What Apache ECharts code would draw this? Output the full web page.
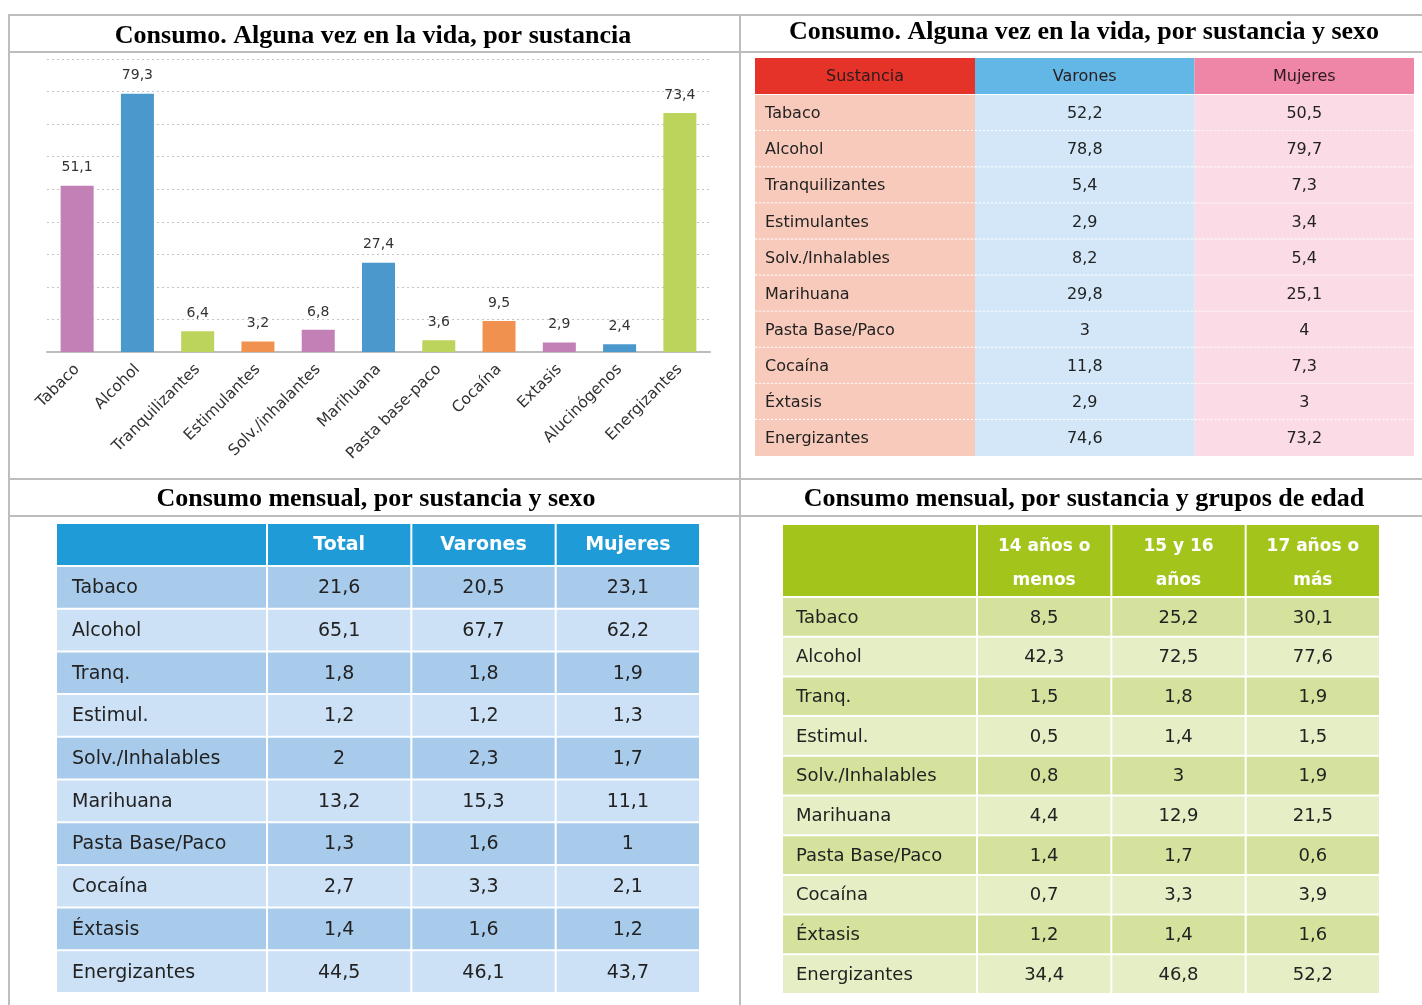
<!DOCTYPE html>
<html>
<head>
<meta charset="utf-8">
<script src="https://cdn.jsdelivr.net/npm/echarts@6/dist/echarts.min.js"></script>
<style>html,body{margin:0;padding:0;background:#fff}#c{width:1422px;height:1005px}</style>
</head>
<body>
<div id="c"></div>
<script>
// ---------- Bar chart data ----------
const barCategories = ['Tabaco','Alcohol','Tranquilizantes','Estimulantes','Solv./inhalantes','Marihuana','Pasta base-paco','Cocaína','Extasis','Alucinógenos','Energizantes'];
const barValues = [51.1,79.3,6.4,3.2,6.8,27.4,3.6,9.5,2.9,2.4,73.4];
const barPalette = ['#c280b7','#4b98cc','#bcd45b','#f19150'];

// ---------- Table 1: alguna vez en la vida, por sexo ----------
const t1Header = ['Sustancia','Varones','Mujeres'];
const t1Rows = ['Tabaco','Alcohol','Tranquilizantes','Estimulantes','Solv./Inhalables','Marihuana','Pasta Base/Paco','Cocaína','Éxtasis','Energizantes'];
const t1Varones = [52.2,78.8,5.4,2.9,8.2,29.8,3,11.8,2.9,74.6];
const t1Mujeres = [50.5,79.7,7.3,3.4,5.4,25.1,4,7.3,3,73.2];

// ---------- Table 2: consumo mensual por sexo ----------
const t2Header = ['','Total','Varones','Mujeres'];
const t2Rows = ['Tabaco','Alcohol','Tranq.','Estimul.','Solv./Inhalables','Marihuana','Pasta Base/Paco','Cocaína','Éxtasis','Energizantes'];
const t2Total = [21.6,65.1,1.8,1.2,2,13.2,1.3,2.7,1.4,44.5];
const t2Varones = [20.5,67.7,1.8,1.2,2.3,15.3,1.6,3.3,1.6,46.1];
const t2Mujeres = [23.1,62.2,1.9,1.3,1.7,11.1,1,2.1,1.2,43.7];

// ---------- Table 3: consumo mensual por edad ----------
const t3Header = ['','14 años o\nmenos','15 y 16\naños','17 años o\nmás'];
const t3Rows = ['Tabaco','Alcohol','Tranq.','Estimul.','Solv./Inhalables','Marihuana','Pasta Base/Paco','Cocaína','Éxtasis','Energizantes'];
const t3Age14 = [8.5,42.3,1.5,0.5,0.8,4.4,1.4,0.7,1.2,34.4];
const t3Age1516 = [25.2,72.5,1.8,1.4,3,12.9,1.7,3.3,1.4,46.8];
const t3Age17 = [30.1,77.6,1.9,1.5,1.9,21.5,0.6,3.9,1.6,52.2];

const fmt = v => String(v).replace('.', ',');
const FONT = '"DejaVu Sans", "Liberation Sans", Arial, sans-serif';

const chart = echarts.init(document.getElementById('c'), null, {renderer:'canvas'});

const grids = [], xAxes = [], yAxes = [], series = [];

// bar chart
grids.push({left:47, width:663, top:59, height:293});
xAxes.push({type:'category', gridIndex:0, data:barCategories,
  axisTick:{show:false},
  axisLine:{lineStyle:{color:'#bcbcbc', width:2}},
  axisLabel:{rotate:45, interval:0, fontSize:15.5, color:'#333', margin:15, fontFamily:FONT}});
yAxes.push({type:'value', gridIndex:0, min:0, max:90, interval:10,
  axisLabel:{show:false}, axisLine:{show:false}, axisTick:{show:false},
  splitLine:{lineStyle:{type:[2,3], color:'#c4c4c4', width:1}}});
series.push({type:'bar', xAxisIndex:0, yAxisIndex:0, barWidth:33,
  data: barValues.map((v,i)=>({value:v, itemStyle:{color:barPalette[i%4]}})),
  label:{show:true, position:'top', distance:11, fontSize:14, color:'#333', fontFamily:FONT,
    formatter:p=>fmt(p.value)}});

// generic table builder
function addTable(spec){
  const boxes = [
    {part:'hl', left:spec.lx, width:spec.lw, top:spec.hy, height:spec.hh},
    {part:'hv', left:spec.vx, width:spec.vw, top:spec.hy, height:spec.hh},
    {part:'bl', left:spec.lx, width:spec.lw, top:spec.by, height:spec.bh},
    {part:'bv', left:spec.vx, width:spec.vw, top:spec.by, height:spec.bh}
  ];
  boxes.forEach(b=>{
    const gi = grids.length;
    grids.push({left:b.left, width:b.width, top:b.top, height:b.height});
    const isLabel = b.part[1]==='l';
    const isHeader = b.part[0]==='h';
    const xCats = isLabel ? ['label'] : spec.header.slice(1);
    const yCats = isHeader ? ['header'] : spec.rows;
    xAxes.push({type:'category', gridIndex:gi, data:xCats, show:false});
    yAxes.push({type:'category', gridIndex:gi, data:yCats, inverse:true, show:false});
    const items = [], texts = [];
    xCats.forEach((xc,ci)=>{
      yCats.forEach((yc,ri)=>{
        items.push([ci, ri]);
        if(isHeader) texts.push(isLabel ? spec.header[0] : spec.header[ci+1]);
        else texts.push(isLabel ? spec.rows[ri] : fmt(spec.cols[ci][ri]));
      });
    });
    const st = spec.style;
    series.push({type:'custom', xAxisIndex:gi, yAxisIndex:gi, silent:true,
      data: items, encode:{x:0, y:1},
      renderItem:(params, api)=>{
        const ci = api.value(0), ri = api.value(1);
        const c = api.coord([ci, ri]);
        const s = api.size([1,1]);
        const g = st.gap;
        const colIdx = isLabel ? 0 : ci+1;
        const fill = isHeader ? st.headFill(colIdx) : st.bodyFill(colIdx, ri);
        const x0 = c[0]-s[0]/2, y0 = c[1]-s[1]/2;
        const children = [{type:'rect', shape:{x:x0+g, y:y0+g, width:s[0]-2*g, height:s[1]-2*g}, style:{fill}}];
        const txt = texts[params.dataIndex];
        const leftAlign = isLabel && !(isHeader && st.headCenter);
        children.push({type:'text', style:{
          text:txt,
          x: leftAlign ? x0 + st.padLeft : c[0],
          y: c[1] + (isHeader ? (st.headDy||0) : (st.bodyDy||0)),
          align: leftAlign ? 'left' : 'center',
          verticalAlign:'middle',
          fill: isHeader ? st.headColor : st.bodyColor,
          fontSize: isHeader ? st.headSize : st.bodySize,
          fontWeight: isHeader ? st.headWeight : 'normal',
          fontFamily: FONT,
          lineHeight: st.headLineHeight || undefined
        }});
        if(st.dotted && !isHeader && ri < spec.rows.length-1){
          children.push({type:'line', shape:{x1:x0, y1:y0+s[1], x2:x0+s[0], y2:y0+s[1]},
            style:{stroke:'#ffffff', lineWidth:2, lineDash:[2,2]}});
        }
        if(st.dotted && isHeader){
          children.push({type:'line', shape:{x1:x0, y1:y0+s[1], x2:x0+s[0], y2:y0+s[1]},
            style:{stroke:'#ffffff', lineWidth:2}});
        }
        return {type:'group', children};
      }});
  });
}

addTable({lx:755, lw:220, vx:975, vw:439, hy:58, hh:37, by:95, bh:361,
  header:t1Header, rows:t1Rows, cols:[t1Varones, t1Mujeres],
  style:{gap:0, dotted:true, padLeft:10, headCenter:true, bodyDy:1,
    headFill:c=>['#e5332a','#62b7e6','#ef85a7'][c],
    bodyFill:(c,r)=>['#f8cabb','#d3e7f8','#fbdbe5'][c],
    headColor:'#2b1b1b', headSize:16, headWeight:'normal',
    bodyColor:'#222', bodySize:16}});

addTable({lx:56, lw:211, vx:267, vw:433, hy:523, hh:43, by:566, bh:427,
  header:t2Header, rows:t2Rows, cols:[t2Total, t2Varones, t2Mujeres],
  style:{gap:1, dotted:false, padLeft:16, headDy:1, bodyDy:1,
    headFill:c=>'#1f9cd8',
    bodyFill:(c,r)=> r%2===0 ? '#a8cbec' : '#cde1f6',
    headColor:'#ffffff', headSize:19, headWeight:'bold',
    bodyColor:'#222', bodySize:19}});

addTable({lx:782, lw:195, vx:977, vw:403, hy:524, hh:73, by:597, bh:397,
  header:t3Header, rows:t3Rows, cols:[t3Age14, t3Age1516, t3Age17],
  style:{gap:1, dotted:false, padLeft:14, headDy:3, bodyDy:1,
    headFill:c=>'#a2c41b',
    bodyFill:(c,r)=> r%2===0 ? '#d4e29d' : '#e5eec5',
    headColor:'#ffffff', headSize:17, headWeight:'bold', headLineHeight:34,
    bodyColor:'#222', bodySize:18}});

// frame and titles
const FR = '#bdbdbd';
const frameLines = [
  [8,15,1422,15],[8,52,1422,52],[8,479,1422,479],[8,516,1422,516],
  [9,15,9,1005],[740,15,740,1005]
];
const titles = [
  {text:'Consumo. Alguna vez en la vida, por sustancia', x:373, y:36},
  {text:'Consumo. Alguna vez en la vida, por sustancia y sexo', x:1084, y:32},
  {text:'Consumo mensual, por sustancia y sexo', x:376, y:499},
  {text:'Consumo mensual, por sustancia y grupos de edad', x:1084, y:499}
];
const graphic = [];
frameLines.forEach(l=>graphic.push({type:'line', silent:true, z:10,
  shape:{x1:l[0],y1:l[1],x2:l[2],y2:l[3]}, style:{stroke:FR, lineWidth:2}}));
titles.forEach(t=>graphic.push({type:'text', silent:true, x:t.x, y:t.y,
  style:{text:t.text, align:'center', verticalAlign:'middle', fill:'#000',
    fontSize:26, fontWeight:'bold', fontFamily:'"Liberation Serif", "Times New Roman", serif'}}));

chart.setOption({
  animation:false,
  backgroundColor:'#ffffff',
  grid:grids, xAxis:xAxes, yAxis:yAxes, series, graphic
});
</script>
</body>
</html>
